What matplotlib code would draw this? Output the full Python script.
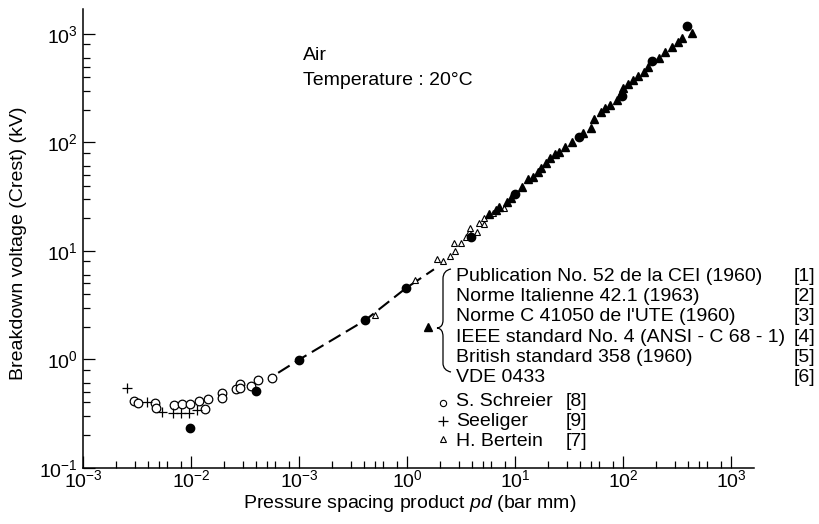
import matplotlib
matplotlib.use('Agg')
import matplotlib.pyplot as plt
from matplotlib.ticker import LogLocator, NullFormatter
from matplotlib.lines import Line2D
from matplotlib.path import Path
from matplotlib.patches import PathPatch

plt.rcParams['font.family'] = ['Liberation Sans', 'DejaVu Sans']
plt.rcParams['mathtext.fontset'] = 'custom'
plt.rcParams['mathtext.rm'] = 'Liberation Sans'
plt.rcParams['mathtext.it'] = 'Liberation Sans:italic'

# --- data ---
schreier_x = [0.00297, 0.00326, 0.00466, 0.00472, 0.00689, 0.00818, 0.0098, 0.0119, 0.0136,
              0.0145, 0.0193, 0.0193, 0.0262, 0.0286, 0.0286, 0.0361, 0.0417, 0.0562]
schreier_y = [0.415, 0.398, 0.398, 0.353, 0.379, 0.385, 0.385, 0.413, 0.346,
              0.428, 0.486, 0.437, 0.529, 0.592, 0.540, 0.567, 0.644, 0.668]

seeliger_x = [0.00257, 0.00395, 0.00537, 0.00675, 0.00807, 0.00965, 0.0113]
seeliger_y = [0.541, 0.407, 0.329, 0.318, 0.318, 0.318, 0.341]

bertein_x = [0.504, 1.19, 1.87, 2.16, 2.49, 2.77, 2.71, 3.13, 3.49, 3.74, 3.80,
             4.42, 4.64, 5.16, 5.09, 6.18, 7.82]
bertein_y = [2.56, 5.35, 8.35, 8.05, 8.96, 10.0, 11.9, 11.7, 13.5, 15.0, 16.1,
             15.0, 17.9, 17.7, 19.9, 22.2, 24.6]

dots_x = [0.00985, 0.0402, 0.0989, 0.409, 0.97, 3.88, 10.0, 38.6, 97.9, 183, 388]
dots_y = [0.231, 0.510, 0.985, 2.29, 4.51, 13.3, 33.6, 113, 267, 565, 1180]

standards_x = [5.74, 6.63, 7.11, 8.40, 9.14, 11.5, 13.2, 14.5, 16.2, 17.4, 19.4, 21.2,
               23.5, 25.2, 29.1, 33.5, 42.5, 50.0, 53.7, 61.9, 67.4, 75.0, 86.7, 100,
               111, 124, 138, 154, 171, 212, 244, 281, 320, 348, 431]
standards_y = [21.8, 23.8, 25.2, 28.4, 30.5, 39.0, 45.6, 48.2, 53.6, 57.6, 64.8, 71.2,
               78.0, 81.9, 89.9, 101, 121, 135, 163, 191, 206, 221, 245, 315,
               345, 375, 408, 448, 491, 595, 684, 760, 846, 909, 1011]

curve_x = [0.064, 0.0989, 0.409, 0.97, 1.77]
curve_y = [0.75, 0.985, 2.29, 4.51, 6.75]

x_ticks = [1e-3, 1e-2, 1e-1, 1e0, 1e1, 1e2, 1e3]
x_labels = ['$10^{-3}$', '$10^{-2}$', '$10^{-3}$', '$10^{0}$', '$10^{1}$', '$10^{2}$', '$10^{3}$']
y_ticks = [1e-1, 1e0, 1e1, 1e2, 1e3]
y_labels = ['$10^{-1}$', '$10^{0}$', '$10^{1}$', '$10^{2}$', '$10^{3}$']
minor_subs = [2, 3, 4, 5, 6, 8]

standards = ['Publication No. 52 de la CEI (1960)', 'Norme Italienne 42.1 (1963)',
             "Norme C 41050 de l'UTE (1960)", 'IEEE standard No. 4 (ANSI - C 68 - 1)',
             'British standard 358 (1960)', 'VDE 0433']
standard_refs = ['[1]', '[2]', '[3]', '[4]', '[5]', '[6]']
authors = ['S. Schreier', 'Seeliger', 'H. Bertein']
author_refs = ['[8]', '[9]', '[7]']

W, H = 820, 524
fig = plt.figure(figsize=(W / 100, H / 100), dpi=100)
ax = fig.add_axes([83 / W, 1 - 467.7 / H, (754 - 83) / W, (467.7 - 9) / H])

def px(x, y):
    return x / W, 1 - y / H

fs = 14
ax.plot(curve_x, curve_y, color='black', lw=1.5, ls=(0, (6.5, 3)))
ax.plot(schreier_x, schreier_y, 'o', mfc='white', mec='black', mew=0.9, ms=6.2, ls='none')
ax.plot(seeliger_x, seeliger_y, '+', color='black', mew=0.9, ms=7, ls='none')
ax.plot(bertein_x, bertein_y, '^', mfc='white', mec='black', mew=0.8, ms=4.6, ls='none')
ax.plot(standards_x, standards_y, '^', color='black', ms=5.2, ls='none')
ax.plot(dots_x, dots_y, 'o', color='black', ms=6, ls='none')

ax.set_xscale('log')
ax.set_yscale('log')
ax.set_xlim(1e-3, 10 ** 3.21)
ax.set_ylim(0.1, 10 ** 3.23)
ax.set_xticks(x_ticks, x_labels)
ax.set_yticks(y_ticks, y_labels)
ax.xaxis.set_minor_locator(LogLocator(base=10, subs=minor_subs, numticks=50))
ax.yaxis.set_minor_locator(LogLocator(base=10, subs=minor_subs, numticks=50))
ax.xaxis.set_minor_formatter(NullFormatter())
ax.yaxis.set_minor_formatter(NullFormatter())
ax.tick_params(which='major', direction='in', length=8.5, width=0.9, labelsize=fs)
ax.tick_params(which='minor', direction='in', length=5, width=0.9)
ax.tick_params(axis='x', which='major', pad=1)
ax.tick_params(axis='y', which='major', pad=4)
for s in ['top', 'right']:
    ax.spines[s].set_visible(False)
for s in ['left', 'bottom']:
    ax.spines[s].set_linewidth(1.1)

ax.set_ylabel('Breakdown voltage (Crest) (kV)', fontsize=fs)
ax.yaxis.set_label_coords(-0.083, 0.49)
ax.set_xlabel('Pressure spacing product $pd$ (bar mm)', fontsize=fs)
ax.xaxis.set_label_coords(0.487, -0.055)
ax.xaxis.label.set_va('top')

fig.text(*px(303, 60), 'Air', fontsize=fs, va='baseline')
fig.text(*px(303, 85), 'Temperature : 20°C', fontsize=fs, va='baseline')

# brace legend for the standards
for i, (name, ref) in enumerate(zip(standards, standard_refs)):
    yb = 280.7 + i * 20.3
    fig.text(*px(456, yb), name, fontsize=fs, va='baseline')
    fig.text(*px(815, yb), ref, fontsize=fs, va='baseline', ha='right')

verts = [px(451, 269), px(446, 270), px(443, 273), px(443, 279),
         px(443, 320), px(443, 325), px(441, 327.5), px(437, 328),
         px(441, 328.5), px(443, 331), px(443, 337),
         px(443, 363), px(443, 368), px(446, 371), px(451, 372)]
codes = [Path.MOVETO, Path.CURVE4, Path.CURVE4, Path.CURVE4,
         Path.LINETO, Path.CURVE4, Path.CURVE4, Path.CURVE4,
         Path.CURVE4, Path.CURVE4, Path.CURVE4,
         Path.LINETO, Path.CURVE4, Path.CURVE4, Path.CURVE4]
fig.add_artist(PathPatch(Path(verts, codes), fill=False, lw=0.9, ec='black',
                         transform=fig.transFigure))
mx, my = px(428.3, 327.3)
fig.add_artist(Line2D([mx], [my], marker='^', color='black', ms=5.2, ls='none',
                      transform=fig.transFigure))

# author legend
marker_styles = [dict(marker='o', mfc='white', mec='black', mew=0.8, ms=4.5),
                 dict(marker='+', color='black', mew=0.9, ms=6.5),
                 dict(marker='^', mfc='white', mec='black', mew=0.8, ms=3.8)]
marker_rows = [403.3, 421, 439]
for i, (name, ref) in enumerate(zip(authors, author_refs)):
    yb = 406.5 + i * 20
    fig.text(*px(456, yb), name, fontsize=fs, va='baseline')
    fig.text(*px(565.7, yb), ref, fontsize=fs, va='baseline')
    mx, my = px(443.3, marker_rows[i])
    fig.add_artist(Line2D([mx], [my], ls='none', transform=fig.transFigure, **marker_styles[i]))

fig.savefig('out.png', dpi=100)
